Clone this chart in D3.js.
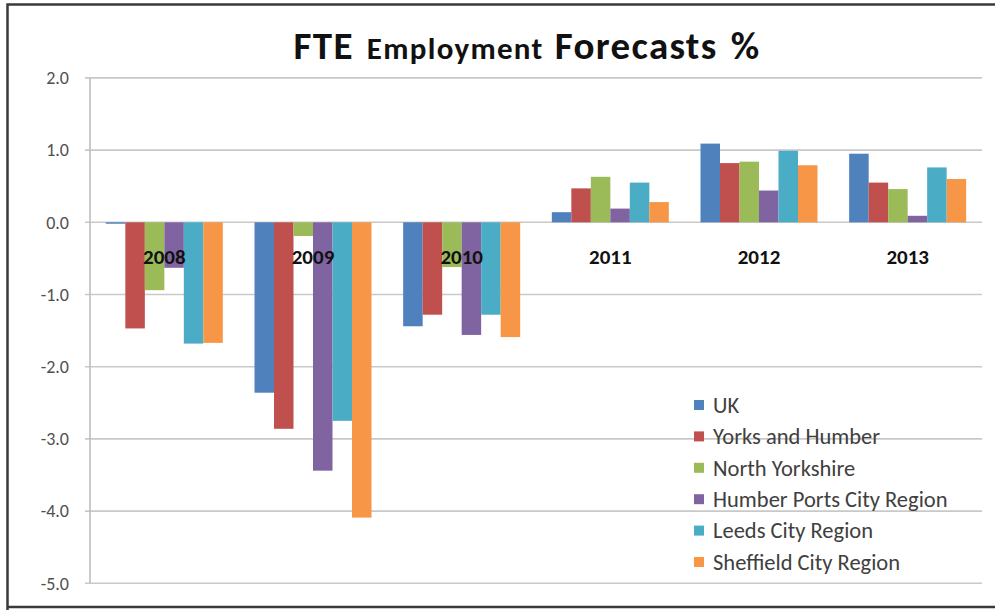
<!DOCTYPE html>
<html>
<head>
<meta charset="utf-8">
<script src="https://cdn.jsdelivr.net/npm/d3@7"></script>
<style>
  html, body { margin: 0; padding: 0; background: #ffffff; }
  svg { display: block; }
</style>
</head>
<body>
<svg id="chart" width="995" height="610"></svg>
<script>
// Forecast years (x categories)
const years = ["2008", "2009", "2010", "2011", "2012", "2013"];

// Series names, in legend order
const seriesNames = [
  "UK",
  "Yorks and Humber",
  "North Yorkshire",
  "Humber Ports City Region",
  "Leeds City Region",
  "Sheffield City Region"
];

// FTE employment change, % per year
const ukValues              = [-0.02, -2.36, -1.44, 0.14, 1.09, 0.95];
const yorksHumberValues     = [-1.47, -2.86, -1.28, 0.47, 0.82, 0.55];
const northYorkshireValues  = [-0.94, -0.19, -0.62, 0.63, 0.84, 0.46];
const humberPortsValues     = [-0.63, -3.44, -1.56, 0.19, 0.44, 0.09];
const leedsValues           = [-1.68, -2.75, -1.28, 0.55, 0.99, 0.76];
const sheffieldValues       = [-1.67, -4.09, -1.59, 0.28, 0.79, 0.60];

// Value axis ticks
const yTickValues = [2, 1, 0, -1, -2, -3, -4, -5];

const seriesColors = ["#4F81BD", "#C0504D", "#9BBB59", "#8064A2", "#4BACC6", "#F79646"];

const seriesValues = [ukValues, yorksHumberValues, northYorkshireValues,
                      humberPortsValues, leedsValues, sheffieldValues];

const svg = d3.select("#chart");
const font = "Carlito, Calibri, Lato, 'Open Sans', sans-serif";

// Outer frame
svg.append("path")
  .attr("d", "M7.5,610 L7.5,4.5 L995,4.5 M7.5,607 L995,607")
  .attr("fill", "none")
  .attr("stroke", "#3a3a3a")
  .attr("stroke-width", 2.5);

const plot = { left: 90, right: 982, top: 77.9, bottom: 583.3 };

const y = d3.scaleLinear()
  .domain([-5, 2])
  .range([plot.bottom, plot.top]);

const x0 = d3.scaleBand()
  .domain(years)
  .range([plot.left, plot.right])
  .paddingInner(0.213)
  .paddingOuter(0.1065);

const x1 = d3.scaleBand()
  .domain(seriesNames)
  .range([0, x0.bandwidth()]);

// Gridlines
svg.append("g")
  .selectAll("line")
  .data(yTickValues)
  .join("line")
  .attr("x1", plot.left - 5)
  .attr("x2", plot.right)
  .attr("y1", d => y(d))
  .attr("y2", d => y(d))
  .attr("stroke", "#c9c9c9")
  .attr("stroke-width", 1.6);

// Value axis line
svg.append("line")
  .attr("x1", plot.left).attr("x2", plot.left)
  .attr("y1", plot.top).attr("y2", plot.bottom)
  .attr("stroke", "#bdbdbd")
  .attr("stroke-width", 1.6);

// Value axis labels (plain hyphen for negatives)
const fmt = d3.format(".1f");
const yAxis = d3.axisLeft(y)
  .tickValues(yTickValues)
  .tickFormat(d => fmt(d).replace("\u2212", "-"))
  .tickSize(0)
  .tickPadding(21);

const yAxisG = svg.append("g")
  .attr("transform", `translate(${plot.left},0)`)
  .call(yAxis);
yAxisG.select(".domain").remove();
yAxisG.selectAll("text")
  .attr("font-family", font)
  .attr("font-size", 18)
  .attr("fill", "#505050");

// Bars
const groups = svg.append("g")
  .selectAll("g")
  .data(years.map((yr, i) => ({ yr, i })))
  .join("g")
  .attr("transform", d => `translate(${x0(d.yr)},0)`);

groups.selectAll("rect")
  .data(d => seriesNames.map((name, s) => ({ name, s, v: seriesValues[s][d.i] })))
  .join("rect")
  .attr("x", d => x1(d.name))
  .attr("width", x1.bandwidth())
  .attr("y", d => y(Math.max(0, d.v)))
  .attr("height", d => Math.abs(y(d.v) - y(0)))
  .attr("fill", d => seriesColors[d.s]);

// Category labels sit just below the zero line
const xAxis = d3.axisBottom(x0).tickSize(0).tickPadding(27);
const xAxisG = svg.append("g")
  .attr("transform", `translate(0,${y(0)})`)
  .call(xAxis);
xAxisG.select(".domain").remove();
xAxisG.selectAll("text")
  .attr("font-family", font)
  .attr("font-size", 21)
  .attr("font-weight", "bold")
  .attr("fill", "#111111");

// Title
const title = svg.append("text")
  .attr("x", 527)
  .attr("y", 59)
  .attr("text-anchor", "middle")
  .attr("font-family", font)
  .attr("font-weight", "bold")
  .attr("letter-spacing", 1.3)
  .attr("word-spacing", 3)
  .attr("fill", "#111111");
title.append("tspan").attr("font-size", 39).text("FTE ");
title.append("tspan").attr("font-size", 31).text("Employment ");
title.append("tspan").attr("font-size", 39).text("Forecasts %");

// Legend
const legend = svg.append("g")
  .attr("transform", "translate(694,405)");
const rows = legend.selectAll("g")
  .data(seriesNames)
  .join("g")
  .attr("transform", (d, i) => `translate(0,${i * 31.4})`);
rows.append("rect")
  .attr("x", 0).attr("y", -5)
  .attr("width", 10).attr("height", 10)
  .attr("fill", (d, i) => seriesColors[i]);
rows.append("text")
  .attr("x", 19)
  .attr("y", 0)
  .attr("dy", "0.35em")
  .attr("font-family", font)
  .attr("font-size", 22.5)
  .attr("fill", "#404040")
  .text(d => d);
</script>
</body>
</html>
